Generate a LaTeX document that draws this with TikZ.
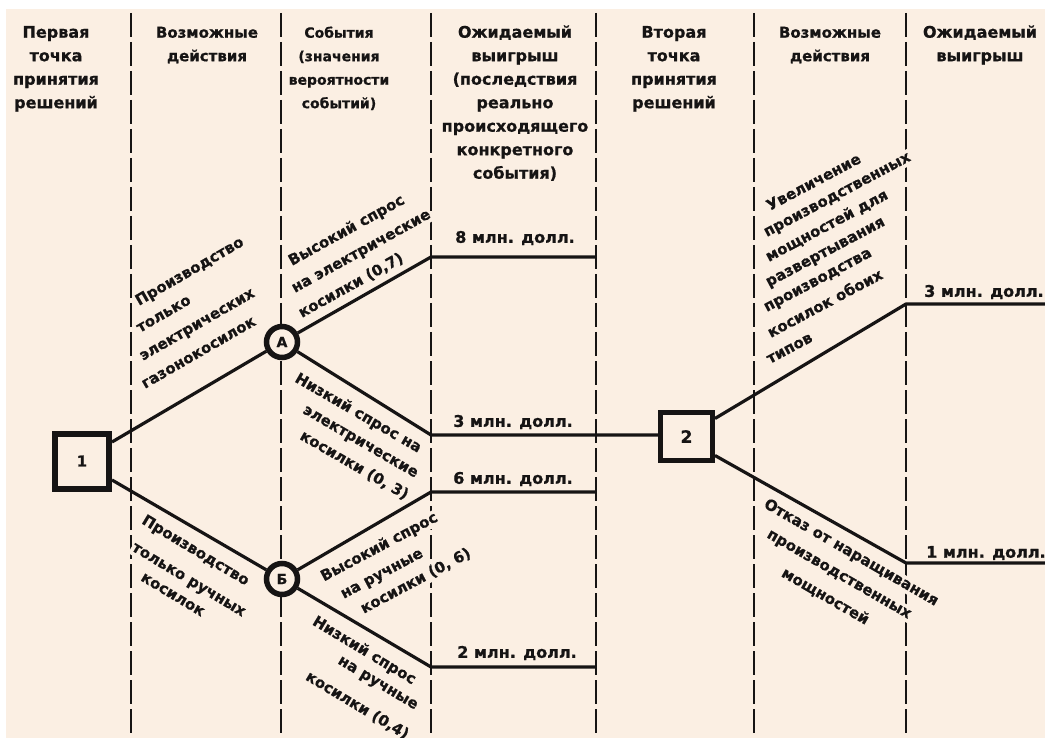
\documentclass[tikz,border=0pt]{standalone}
\usepackage{fontspec}
\setmainfont{DejaVu Sans}[BoldFeatures={FakeBold=0.8}]
\definecolor{pbg}{RGB}{251,239,227}
\definecolor{ink}{RGB}{22,20,20}
\tikzset{
  dl/.style={draw=ink, line width=2pt, dash pattern=on 24pt off 5pt},
  conn/.style={draw=ink, line width=3.2pt, line join=round},
  hdr/.style={font=\fontsize{16}{23.5}\selectfont\bfseries, text=ink, align=center, anchor=north, inner sep=0pt},
  hdrs/.style={hdr, font=\fontsize{15}{23.5}\selectfont\bfseries},
  hdrn/.style={hdr, font=\fontsize{14}{23.5}\selectfont\bfseries},
  lab/.style={font=\fontsize{15}{18}\selectfont\bfseries, text=ink, fill=pbg, inner sep=1pt, text height=11pt, text depth=3pt},
  amt/.style={font=\fontsize{16}{18}\selectfont\bfseries, text=ink, inner sep=1pt},
  dbox/.style={draw=ink, fill=pbg, inner sep=0pt, text=ink},
  cnode/.style={circle, draw=ink, line width=5.5pt, fill=pbg, minimum size=31pt, inner sep=0pt, text=ink, font=\fontsize{14}{14}\selectfont\bfseries}
}
\begin{document}
\begin{tikzpicture}[x=1pt,y=-1pt]
\useasboundingbox (0,0) rectangle (1045,738);
\fill[white] (0,0) rectangle (1045,738);
\fill[pbg] (6,9) rectangle (1045,738);
% column separators
\foreach \x in {131,281,431,596,754,906} \draw[dl] (\x,13) -- (\x,738);

% headers
\node[hdr] (h1) at (56,23.5) {\rule{0pt}{14pt}Первая\\точка\\принятия\\решений};
\node[hdrs] (h2) at (207,23.5) {\rule{0pt}{14pt}Возможные\\действия};
\node[hdrn] (h3) at (339,23.5) {\rule{0pt}{14pt}События\\(значения\\вероятности\\событий)};
\node[hdr] (h4) at (515,23.5) {\rule{0pt}{14pt}Ожидаемый\\выигрыш\\(последствия\\реально\\происходящего\\конкретного\\события)};
\node[hdr] (h5) at (674,23.5) {\rule{0pt}{14pt}Вторая\\точка\\принятия\\решений};
\node[hdrs] (h6) at (830,23.5) {\rule{0pt}{14pt}Возможные\\действия};
\node[hdr] (h7) at (980,23.5) {\rule{0pt}{14pt}Ожидаемый\\выигрыш};

% rotated labels
\node[lab, rotate=30, anchor=west] (a1) at (136,303) {Производство};
\node[lab, rotate=30, anchor=west] (a2) at (137,330) {только};
\node[lab, rotate=30, anchor=west] (a3) at (140,358) {электрических};
\node[lab, rotate=30, anchor=west] (a4) at (142,386) {газонокосилок};

\node[lab, rotate=29, anchor=west] (b1l) at (289,263) {Высокий спрос};
\node[lab, rotate=29, anchor=west] (b2l) at (292,290) {на электрические};
\node[lab, rotate=29, anchor=west] (b3l) at (299,315) {косилки (0,7)};

\node[lab, rotate=-30, anchor=east] (c1) at (421,450) {Низкий спрос на};
\node[lab, rotate=-30, anchor=east] (c2) at (418,475) {электрические};
\node[lab, rotate=-30, anchor=east] (c3) at (408,497) {косилки (0, 3)};

\node[lab, rotate=-31, anchor=west] (d1) at (142,519) {Производство};
\node[lab, rotate=-31, anchor=west] (d2) at (132,546) {только ручных};
\node[lab, rotate=-31, anchor=west] (d3) at (141,576) {косилок};

\node[lab, rotate=28] (e1) at (379.5,547.5) {Высокий спрос};
\node[lab, rotate=28] (e2) at (382,574) {на ручные};
\node[lab, rotate=28] (e3) at (416,581.5) {косилки (0, 6)};

\node[lab, rotate=-31] (f1l) at (364,651) {Низкий спрос};
\node[lab, rotate=-31] (f2l) at (378,683) {на ручные};
\node[lab, rotate=-31] (f3l) at (357,706) {косилки (0,4)};

\node[lab, rotate=28, anchor=west] (g1) at (767,208) {Увеличение};
\node[lab, rotate=28, anchor=west] (g2) at (764,234) {производственных};
\node[lab, rotate=28, anchor=west] (g3) at (766,259) {мощностей для};
\node[lab, rotate=28, anchor=west] (g4) at (766,284) {развертывания};
\node[lab, rotate=28, anchor=west] (g5) at (764,309) {производства};
\node[lab, rotate=28, anchor=west] (g6) at (768,335) {косилок обоих};
\node[lab, rotate=28, anchor=west] (g7) at (767,361) {типов};

\node[lab, rotate=-30] (k1l) at (851,553) {Отказ от наращивания};
\node[lab, rotate=-30] (k2l) at (839,574.5) {производственных};
\node[lab, rotate=-30] (k3l) at (825,597) {мощностей};

% decision and chance nodes
\node[dbox, line width=6pt, minimum width=54pt, minimum height=55pt, font=\fontsize{15}{15}\selectfont\bfseries] (n1) at (82,461) {1};
\node[dbox, line width=5pt, minimum width=52pt, minimum height=48pt, font=\fontsize{17}{17}\selectfont\bfseries] (n2) at (686.5,436.5) {2};
\node[cnode] (A) at (282,342) {А};
\node[cnode] (B) at (282,579) {Б};

% junction coordinates
\coordinate (j8) at (431,257); \coordinate (e8) at (596,257);
\coordinate (j3) at (431,435);
\coordinate (j6) at (431,492); \coordinate (e6) at (596,492);
\coordinate (j2) at (431,667); \coordinate (e2) at (596,667);
\coordinate (q3) at (906,304); \coordinate (r3) at (1045,304);
\coordinate (q1) at (906,563); \coordinate (r1) at (1045,563);

% connectors
\draw[conn] ([yshift=19pt]n1.east) -- (A);
\draw[conn] ([yshift=-19pt]n1.east) -- (B);
\draw[conn] (A) -- (j8) -- (e8);
\draw[conn] (A) -- (j3) -- (j3 -| n2.west);
\draw[conn] (B) -- (j6) -- (e6);
\draw[conn] (B) -- (j2) -- (e2);
\draw[conn] ([yshift=18pt]n2.east) -- (q3) -- (r3);
\draw[conn] ([yshift=-19pt]n2.east) -- (q1) -- (r1);

% payoffs
\node[amt] (m8) at (515,238) {8 млн. долл.};
\node[amt] (m3) at (513,422) {3 млн. долл.};
\node[amt] (m6) at (513,479) {6 млн. долл.};
\node[amt] (m2) at (517,653) {2 млн. долл.};
\node[amt, anchor=west] (mr3) at (923,292) {3 млн. долл.};
\node[amt, anchor=west] (mr1) at (925,553) {1 млн. долл.};
\end{tikzpicture}
\end{document}
